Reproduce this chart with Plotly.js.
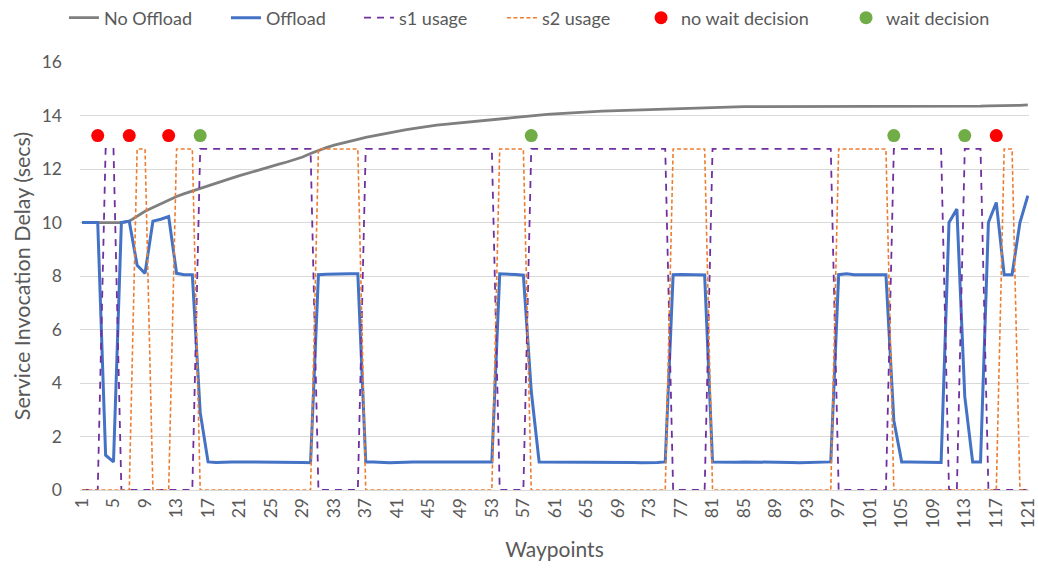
<!DOCTYPE html>
<html>
<head>
<meta charset="utf-8">
<script src="https://cdn.plot.ly/plotly-3.0.1.min.js"></script>
<style>
  html, body { margin: 0; padding: 0; background: #ffffff; }
  #chart { width: 1038px; height: 571px; }
</style>
</head>
<body>
<div id="chart"></div>
<script>
// Waypoints (categories)
const waypoints = [1,2,3,4,5,6,7,8,9,10,11,12,13,14,15,16,17,18,19,20,
  21,22,23,24,25,26,27,28,29,30,31,32,33,34,35,36,37,38,39,40,
  41,42,43,44,45,46,47,48,49,50,51,52,53,54,55,56,57,58,59,60,
  61,62,63,64,65,66,67,68,69,70,71,72,73,74,75,76,77,78,79,80,
  81,82,83,84,85,86,87,88,89,90,91,92,93,94,95,96,97,98,99,100,
  101,102,103,104,105,106,107,108,109,110,111,112,113,114,115,116,117,118,119,120,121];

const tickLabels = [1,5,9,13,17,21,25,29,33,37,41,45,49,53,57,61,65,69,73,77,81,85,89,93,97,101,105,109,113,117,121];
const yTicks = [0,2,4,6,8,10,12,14,16];

// No Offload delay (secs)
const noOffload = [10.0,10.0,10.0,10.0,10.0,10.0,10.05,10.25,10.42,10.56,
  10.7,10.85,10.97,11.08,11.18,11.28,11.38,11.48,11.57,11.66,
  11.75,11.84,11.93,12.02,12.1,12.18,12.26,12.35,12.45,12.58,
  12.7,12.8,12.89,12.97,13.04,13.11,13.18,13.24,13.3,13.36,
  13.41,13.46,13.51,13.56,13.6,13.64,13.67,13.7,13.73,13.76,
  13.79,13.82,13.85,13.88,13.91,13.94,13.97,14.0,14.02,14.04,
  14.06,14.08,14.1,14.11,14.12,14.14,14.16,14.17,14.18,14.19,
  14.2,14.21,14.22,14.23,14.24,14.25,14.27,14.28,14.29,14.3,
  14.31,14.32,14.33,14.33,14.33,14.33,14.33,14.33,14.33,14.33,
  14.33,14.33,14.33,14.33,14.33,14.33,14.33,14.33,14.33,14.33,
  14.33,14.33,14.33,14.33,14.33,14.33,14.33,14.33,14.33,14.33,
  14.33,14.33,14.33,14.35,14.35,14.36,14.36,14.36,14.36,14.38,14.4];

// Offload delay (secs)
const offload = [10.0,10.0,10.0,1.3,1.05,10.0,10.05,8.4,8.1,10.05,
  10.12,10.22,8.1,8.05,8.05,2.9,1.05,1.03,1.05,1.05,
  1.05,1.05,1.05,1.05,1.05,1.05,1.05,1.04,1.03,1.02,
  8.05,8.07,8.08,8.08,8.08,8.08,1.05,1.05,1.03,1.02,
  1.03,1.05,1.05,1.05,1.05,1.05,1.05,1.05,1.05,1.05,
  1.05,1.05,1.05,8.08,8.08,8.06,8.03,3.7,1.05,1.05,
  1.05,1.05,1.05,1.05,1.05,1.05,1.05,1.05,1.05,1.05,
  1.03,1.02,1.02,1.03,1.05,8.05,8.06,8.05,8.04,8.04,
  1.05,1.04,1.05,1.04,1.05,1.05,1.04,1.05,1.05,1.05,
  1.03,1.02,1.03,1.05,1.05,1.05,8.05,8.08,8.05,8.05,
  8.05,8.05,8.05,2.6,1.05,1.05,1.05,1.04,1.05,1.03,
  10.0,10.5,3.5,1.05,1.05,10.0,10.75,8.05,8.05,10.0,11.0];

// Server usage indicators
const s1Usage = [0,0,0,12.75,12.75,0,0,0,0,0,
  0,0,0,0,0,12.75,12.75,12.75,12.75,12.75,
  12.75,12.75,12.75,12.75,12.75,12.75,12.75,12.75,12.75,12.75,
  0,0,0,0,0,0,12.75,12.75,12.75,12.75,
  12.75,12.75,12.75,12.75,12.75,12.75,12.75,12.75,12.75,12.75,
  12.75,12.75,12.75,0,0,0,0,12.75,12.75,12.75,
  12.75,12.75,12.75,12.75,12.75,12.75,12.75,12.75,12.75,12.75,
  12.75,12.75,12.75,12.75,12.75,0,0,0,0,0,
  12.75,12.75,12.75,12.75,12.75,12.75,12.75,12.75,12.75,12.75,
  12.75,12.75,12.75,12.75,12.75,12.75,0,0,0,0,
  0,0,0,12.75,12.75,12.75,12.75,12.75,12.75,12.75,
  0,0,12.75,12.75,12.75,0,0,0,0,0,0];

const s2Usage = [0,0,0,0,0,0,0,12.75,12.75,0,
  0,0,12.75,12.75,12.75,0,0,0,0,0,
  0,0,0,0,0,0,0,0,0,0,
  12.75,12.75,12.75,12.75,12.75,12.75,0,0,0,0,
  0,0,0,0,0,0,0,0,0,0,
  0,0,0,12.75,12.75,12.75,12.75,0,0,0,
  0,0,0,0,0,0,0,0,0,0,
  0,0,0,0,0,12.75,12.75,12.75,12.75,12.75,
  0,0,0,0,0,0,0,0,0,0,
  0,0,0,0,0,0,12.75,12.75,12.75,12.75,
  12.75,12.75,12.75,0,0,0,0,0,0,0,
  0,0,0,0,0,0,0,12.75,12.75,0,0];

// Decision markers
const noWaitX = [3,7,12,117];
const noWaitY = [13.25,13.25,13.25,13.25];
const waitX = [16,58,104,113];
const waitY = [13.25,13.25,13.25,13.25];

const FONT = 'Lato, "Open Sans", sans-serif';
const TXT = '#595959';

const traces = [
  {x: waypoints, y: noOffload, name: 'No Offload', type: 'scatter', mode: 'lines',
   line: {color: '#7f7f7f', width: 2.75}, legend: 'legend'},
  {x: waypoints, y: offload, name: 'Offload', type: 'scatter', mode: 'lines',
   line: {color: '#4472c4', width: 3}, legend: 'legend2'},
  {x: waypoints, y: s1Usage, name: 's1 usage', type: 'scatter', mode: 'lines',
   line: {color: '#7030a0', width: 1.8, dash: '7px,6px'}, legend: 'legend3'},
  {x: waypoints, y: s2Usage, name: 's2 usage', type: 'scatter', mode: 'lines',
   line: {color: '#ed7d31', width: 1.6, dash: '4px,2.5px'}, legend: 'legend4'},
  {x: noWaitX, y: noWaitY, name: 'no wait decision', type: 'scatter', mode: 'markers',
   marker: {color: '#ff0000', size: 13}, legend: 'legend5'},
  {x: waitX, y: waitY, name: 'wait decision', type: 'scatter', mode: 'markers',
   marker: {color: '#70ad47', size: 13}, legend: 'legend6'}
];

function legendAt(xp) {
  return {orientation: 'h', x: xp, xanchor: 'left', y: 1.1028, yanchor: 'middle',
          bgcolor: 'rgba(0,0,0,0)', font: {family: FONT, color: TXT, size: 18}};
}

const layout = {
  width: 1038, height: 571,
  margin: {l: 80, r: 9, t: 62, b: 81, autoexpand: false},
  paper_bgcolor: '#ffffff', plot_bgcolor: '#ffffff',
  font: {family: FONT, color: TXT, size: 17},
  showlegend: true,
  legend: legendAt(-0.0169),
  legend2: legendAt(0.1538),
  legend3: legendAt(0.2940),
  legend4: legendAt(0.4446),
  legend5: legendAt(0.5912),
  legend6: legendAt(0.8072),
  xaxis: {
    range: [0.75, 121.15], tickmode: 'array', tickvals: tickLabels, ticktext: tickLabels.map(String),
    tickangle: -90, showgrid: false, zeroline: false, showline: true, linecolor: '#d9d9d9', linewidth: 1,
    ticks: '', tickfont: {family: FONT, color: TXT, size: 17.5}, automargin: false,
    title: {text: 'Waypoints', font: {family: FONT, color: TXT, size: 21}, standoff: 14}
  },
  yaxis: {
    range: [0, 16], tickmode: 'array', tickvals: yTicks, showgrid: true, gridcolor: '#d9d9d9', gridwidth: 1,
    zeroline: false, showline: false, ticks: '', ticklabelstandoff: 17, automargin: false,
    tickfont: {family: FONT, color: TXT, size: 17.5},
    title: {text: 'Service Invocation Delay (secs)', font: {family: FONT, color: TXT, size: 21.5}, standoff: 5}
  }
};

Plotly.newPlot('chart', traces, layout, {displayModeBar: false, staticPlot: true});
</script>
</body>
</html>
